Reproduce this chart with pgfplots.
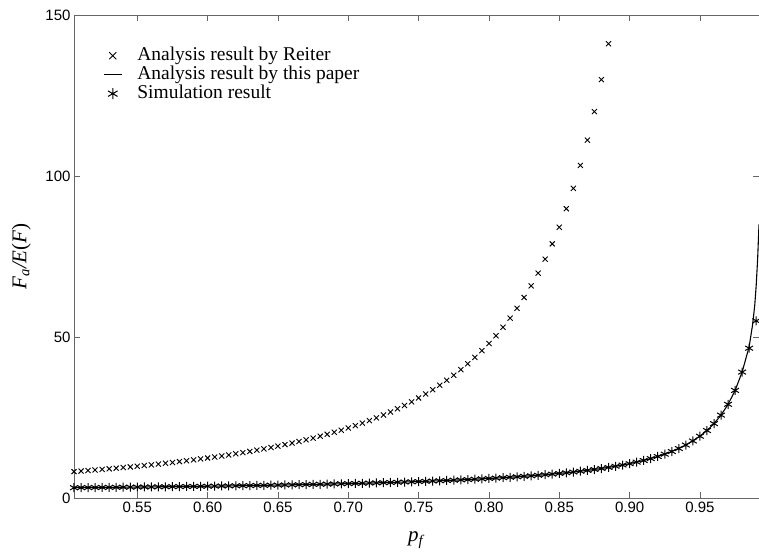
\documentclass[border=0pt]{standalone}
\usepackage{pgfplots}
\pgfplotsset{compat=1.18}
\usepackage{pgfplotstable}
\usepackage{fontspec}
\setmainfont{Liberation Serif}
\newfontfamily\ticksans{Liberation Sans}

% Reiter analysis (x marks)
\pgfplotstableread{
p reiter
0.505 8.19
0.510 8.36
0.515 8.53
0.520 8.70
0.525 8.88
0.530 9.07
0.535 9.26
0.540 9.46
0.545 9.66
0.550 9.87
0.555 10.09
0.560 10.31
0.565 10.55
0.570 10.79
0.575 11.04
0.580 11.30
0.585 11.57
0.590 11.84
0.595 12.13
0.600 12.42
0.605 12.73
0.610 13.05
0.615 13.38
0.620 13.73
0.625 14.09
0.630 14.46
0.635 14.85
0.640 15.25
0.645 15.68
0.650 16.11
0.655 16.58
0.660 17.05
0.665 17.55
0.670 18.07
0.675 18.62
0.680 19.19
0.685 19.78
0.690 20.42
0.695 21.07
0.700 21.76
0.705 22.48
0.710 23.24
0.715 24.04
0.720 24.89
0.725 25.77
0.730 26.71
0.735 27.70
0.740 28.74
0.745 29.85
0.750 31.06
0.755 32.30
0.760 33.63
0.765 35.04
0.770 36.54
0.775 38.14
0.780 39.86
0.785 41.69
0.790 43.65
0.795 45.76
0.800 47.98
0.805 50.41
0.810 53.02
0.815 55.86
0.820 58.92
0.825 62.27
0.830 65.88
0.835 69.83
0.840 74.18
0.845 78.92
0.850 84.09
0.855 89.85
0.860 96.17
0.865 103.27
0.870 111.13
0.875 120.00
0.880 129.93
0.885 141.10
}\reitertab

% simulation result (asterisks)
\pgfplotstableread{
p sim
0.505 3.20
0.510 3.22
0.515 3.24
0.520 3.26
0.525 3.28
0.530 3.30
0.535 3.32
0.540 3.35
0.545 3.37
0.550 3.39
0.555 3.42
0.560 3.44
0.565 3.47
0.570 3.49
0.575 3.52
0.580 3.55
0.585 3.58
0.590 3.60
0.595 3.63
0.600 3.66
0.605 3.69
0.610 3.73
0.615 3.76
0.620 3.79
0.625 3.82
0.630 3.86
0.635 3.90
0.640 3.93
0.645 3.97
0.650 4.01
0.655 4.05
0.660 4.09
0.665 4.13
0.670 4.18
0.675 4.22
0.680 4.27
0.685 4.31
0.690 4.36
0.695 4.42
0.700 4.47
0.705 4.52
0.710 4.58
0.715 4.64
0.720 4.70
0.725 4.76
0.730 4.82
0.735 4.89
0.740 4.96
0.745 5.03
0.750 5.11
0.755 5.18
0.760 5.27
0.765 5.35
0.770 5.44
0.775 5.53
0.780 5.63
0.785 5.73
0.790 5.83
0.795 5.94
0.800 6.06
0.805 6.18
0.810 6.31
0.815 6.44
0.820 6.58
0.825 6.73
0.830 6.89
0.835 7.06
0.840 7.23
0.845 7.42
0.850 7.62
0.855 7.83
0.860 8.06
0.865 8.31
0.870 8.57
0.875 8.85
0.880 9.16
0.885 9.49
0.890 9.85
0.895 10.24
0.900 10.67
0.905 11.14
0.910 11.66
0.915 12.24
0.920 12.89
0.925 13.61
0.930 14.44
0.935 15.37
0.940 16.45
0.945 17.71
0.950 19.19
0.955 20.96
0.960 23.10
0.965 25.74
0.970 29.09
0.975 33.41
0.980 39.11
0.985 46.52
0.990 55.00
}\simtab

% this paper's analysis (solid line)
\pgfplotstableread{
p ana
0.505 3.20
0.530 3.30
0.555 3.42
0.580 3.55
0.605 3.69
0.630 3.86
0.655 4.05
0.680 4.27
0.705 4.52
0.730 4.82
0.755 5.18
0.780 5.63
0.800 6.06
0.820 6.58
0.840 7.23
0.860 8.06
0.875 8.85
0.890 9.85
0.900 10.67
0.910 11.66
0.920 12.89
0.930 14.44
0.940 16.45
0.950 19.19
0.955 20.96
0.960 23.10
0.965 25.74
0.970 29.09
0.975 33.41
0.980 39.11
0.985 47.00
0.9875 54.00
0.989 60.00
0.990 66.00
0.991 74.00
0.992 85.00
}\anatab

\begin{document}
\begin{tikzpicture}
\begin{axis}[
  scale only axis,
  width=685pt, height=483pt,
  xmin=0.505, xmax=0.992,
  ymin=0, ymax=150,
  xtick={0.55,0.60,0.65,0.70,0.75,0.80,0.85,0.90,0.95},
  xticklabels={0.55,0.60,0.65,0.70,0.75,0.80,0.85,0.90,0.95},
  ytick={0,50,100,150},
  xtick pos=both, ytick pos=both,
  xticklabel pos=lower, yticklabel pos=left,
  tick align=inside,
  major tick length=6pt,
  axis line style={black!60, line width=0.8pt},
  every tick/.style={black!60, line width=0.8pt},
  /pgf/number format/assume math mode=true,
  tick label style={font=\ticksans\fontsize{15}{15}\selectfont},
  xlabel={\textit{p}\textsubscript{\textit{f}}},
  ylabel={\textit{F}\textsubscript{\textit{a}}\textit{/E}(\textit{F})},
  every axis x label/.style={at={(axis description cs:0.5,-0.087)}, anchor=center,
    font=\fontsize{21}{21}\selectfont},
  every axis y label/.style={at={(axis description cs:-0.077,0.5)}, rotate=90, anchor=center,
    font=\fontsize{21}{21}\selectfont},
  legend style={draw=none, fill=none, at={(axis description cs:0.038,0.94)}, anchor=north west,
    font=\fontsize{19.5}{19.5}\selectfont, column sep=13pt,
    nodes={inner ysep=0pt, text height=14pt, text depth=5pt}},
  legend cell align=left,
  legend image code/.code={\draw[mark repeat=2,mark phase=2] plot coordinates {(0pt,0pt) (9pt,0pt) (18pt,0pt)};},
]
\addplot[only marks, mark=x, mark size=3.6pt, line width=0.9pt, black,
  legend image post style={mark size=5pt}] table[x=p, y=reiter] {\reitertab};
\addlegendentry{Analysis result by Reiter}
\addplot[no marks, line width=1.1pt, black] table[x=p, y=ana] {\anatab};
\addlegendentry{Analysis result by this paper}
\addplot[only marks, mark=asterisk, mark size=4.5pt, line width=1pt, black,
  legend image post style={mark size=5.5pt}] table[x=p, y=sim] {\simtab};
\addlegendentry{Simulation result}
\coordinate (sw) at (rel axis cs:0,0);
\coordinate (ne) at (rel axis cs:1,1);
\end{axis}
\pgfresetboundingbox
\path[use as bounding box] ([xshift=-74pt,yshift=-56pt]sw) rectangle ([yshift=15pt]ne);
\end{tikzpicture}
\end{document}
